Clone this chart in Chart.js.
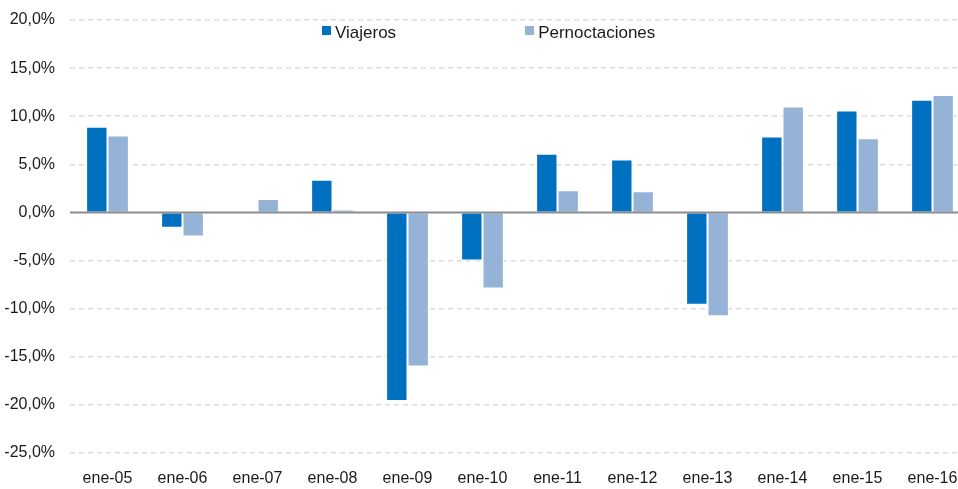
<!DOCTYPE html>
<html>
<head>
<meta charset="utf-8">
<script src="https://cdn.jsdelivr.net/npm/chart.js@4/dist/chart.umd.min.js"></script>
<style>
  html, body { margin: 0; padding: 0; overflow: hidden; background: #fff; }
  #wrap { position: relative; width: 972px; height: 489px; }
  #legend { position: absolute; top: 23px; left: 322px; display: flex; font: 17px "Liberation Sans", Arial, sans-serif; color: #1a1a1a; }
  .item { display: flex; align-items: center; }
  .item + .item { margin-left: 129px; }
  .box { width: 9px; height: 9px; margin-right: 4px; margin-top: -6px; }
</style>
</head>
<body>
<div id="wrap">
  <canvas id="chart" width="972" height="489"></canvas>
  <div id="legend"></div>
</div>
<script>
'use strict';

// data
const categories = ['ene-05', 'ene-06', 'ene-07', 'ene-08', 'ene-09', 'ene-10', 'ene-11', 'ene-12', 'ene-13', 'ene-14', 'ene-15', 'ene-16'];
const seriesNames = ['Viajeros', 'Pernoctaciones'];
const viajeros = [8.9, -1.6, 0.0, 3.4, -19.6, -5.0, 6.1, 5.5, -9.6, 7.9, 10.6, 11.7];
const pernoctaciones = [8.0, -2.5, 1.4, 0.3, -16.0, -7.9, 2.3, 2.2, -10.8, 11.0, 7.7, 12.2];
const yTicks = [-25, -20, -15, -10, -5, 0, 5, 10, 15, 20];
const colors = ['#0070C0', '#95B3D7'];

const fontFamily = '"Liberation Sans", Arial, sans-serif';

// legend
const legendElem = document.getElementById('legend');
seriesNames.forEach(function (name, i) {
  const item = document.createElement('div');
  item.className = 'item';
  const box = document.createElement('span');
  box.className = 'box';
  box.style.background = colors[i];
  const label = document.createElement('span');
  label.textContent = name;
  item.appendChild(box);
  item.appendChild(label);
  legendElem.appendChild(item);
});

// solid zero line over the dashed grid
const zeroLine = {
  id: 'zeroLine',
  afterDatasetsDraw(chart) {
    const ctx = chart.ctx;
    const y = chart.scales.y.getPixelForValue(0);
    ctx.save();
    ctx.strokeStyle = '#8c8c8c';
    ctx.lineWidth = 2;
    ctx.beginPath();
    ctx.moveTo(chart.chartArea.left, y);
    ctx.lineTo(chart.chartArea.right, y);
    ctx.stroke();
    ctx.restore();
  }
};

const ctx = document.getElementById('chart').getContext('2d');
new Chart(ctx, {
  type: 'bar',
  data: {
    labels: categories,
    datasets: [{
      label: seriesNames[0],
      data: viajeros,
      backgroundColor: colors[0],
      borderColor: '#ffffff',
      borderWidth: 1
    }, {
      label: seriesNames[1],
      data: pernoctaciones,
      backgroundColor: colors[1],
      borderColor: '#ffffff',
      borderWidth: 1
    }]
  },
  options: {
    responsive: false,
    animation: false,
    categoryPercentage: 0.57,
    barPercentage: 1,
    layout: {
      padding: { top: 20, right: 2, left: 0, bottom: 0 }
    },
    plugins: {
      legend: { display: false },
      tooltip: { enabled: false }
    },
    scales: {
      x: {
        grid: { display: false },
        border: { display: false },
        ticks: {
          color: '#1a1a1a',
          font: { family: fontFamily, size: 16 },
          padding: 8,
          maxRotation: 0,
          autoSkip: false
        },
        afterFit(scale) { scale.height = 36; }
      },
      y: {
        min: -25,
        max: 20,
        afterBuildTicks(scale) {
          scale.ticks = yTicks.map(v => ({ value: v }));
        },
        grid: {
          color: ctx2 => ctx2.tick && ctx2.tick.value === 0 ? 'rgba(0,0,0,0)' : '#dcdcdc',
          lineWidth: 1.5,
          drawTicks: false
        },
        border: { display: false, dash: [5, 4] },
        ticks: {
          color: '#1a1a1a',
          font: { family: fontFamily, size: 16 },
          padding: 15,
          callback: v => v.toFixed(1).replace('.', ',') + '%'
        },
        afterFit(scale) {
          scale.width = 70;
          scale.paddingTop = 0;
          scale.paddingBottom = 0;
        }
      }
    }
  },
  plugins: [zeroLine]
});
</script>
</body>
</html>
